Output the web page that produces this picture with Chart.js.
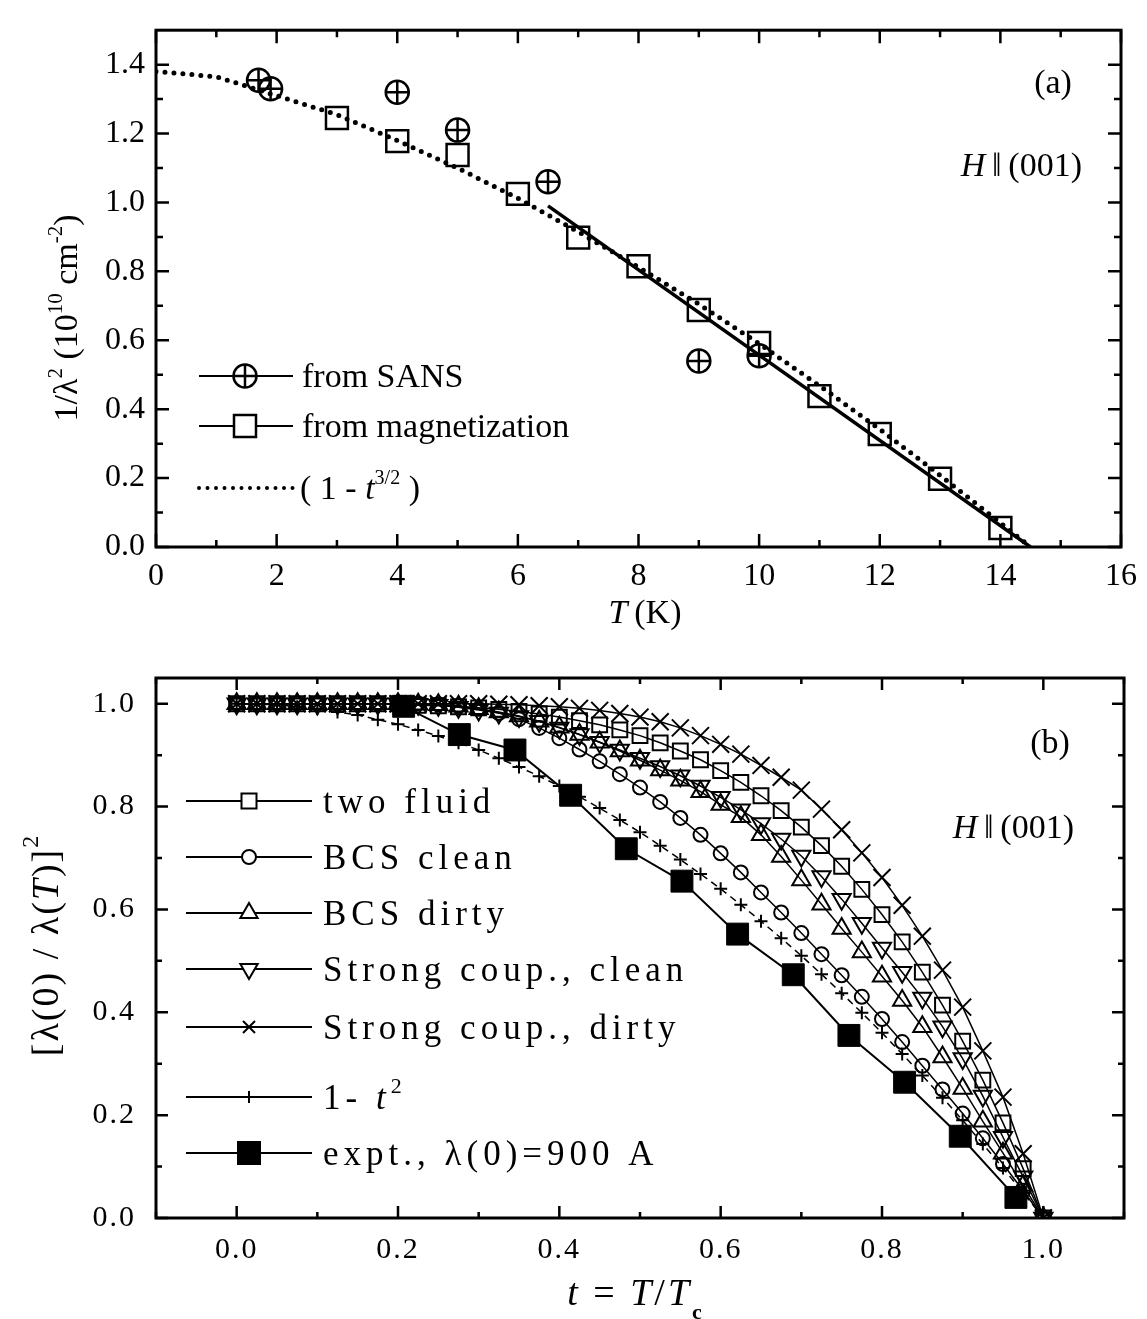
<!DOCTYPE html>
<html>
<head>
<meta charset="utf-8">
<script src="https://cdn.jsdelivr.net/npm/chart.js@4.4.1/dist/chart.umd.min.js"></script>
<style>
  html, body { margin: 0; padding: 0; background: #fff; }
  #wrapA { position: absolute; left: 0; top: 0; width: 1147px; height: 640px; }
  #wrapB { position: absolute; left: 0; top: 640px; width: 1147px; height: 679px; }
</style>
</head>
<body>
<div id="wrapA"><canvas id="chartA" width="1147" height="640"></canvas></div>
<div id="wrapB"><canvas id="chartB" width="1147" height="679"></canvas></div>
<script>
// ---------- panel (a): 1/lambda^2 vs T ----------
const sansT = [1.7, 1.9, 4, 5, 6.5, 9, 10];
const sansY = [1.355, 1.33, 1.32, 1.21, 1.06, 0.54, 0.555];

const magT = [3, 4, 5, 6, 7, 8, 9, 10, 11, 12, 13, 14];
const magY = [1.245, 1.178, 1.138, 1.025, 0.898, 0.815, 0.688, 0.592, 0.438, 0.328, 0.198, 0.055];

const fitT = [6.5, 14.5];
const fitY = [0.99, 0.0];

const powT = [0, 1, 2, 3, 4, 5, 6, 7, 8, 9, 10, 11, 12, 13, 14, 14.5];
const powY = [1.38, 1.365, 1.31, 1.255, 1.18, 1.10, 1.012, 0.915, 0.812, 0.705, 0.59, 0.468, 0.342, 0.208, 0.07, 0.0];

const xTicksA = [0, 2, 4, 6, 8, 10, 12, 14, 16];
const xMinorA = [1, 3, 5, 7, 9, 11, 13, 15];
const yTicksA = [0, 0.2, 0.4, 0.6, 0.8, 1.0, 1.2, 1.4];
const yMinorA = [0.1, 0.3, 0.5, 0.7, 0.9, 1.1, 1.3];

// ---------- panel (b): [lambda(0)/lambda(T)]^2 vs t ----------
const tB = [0, 0.025, 0.05, 0.075, 0.1, 0.125, 0.15, 0.175, 0.2, 0.225, 0.25, 0.275, 0.3, 0.325,
  0.35, 0.375, 0.4, 0.425, 0.45, 0.475, 0.5, 0.525, 0.55, 0.575, 0.6, 0.625, 0.65, 0.675, 0.7,
  0.725, 0.75, 0.775, 0.8, 0.825, 0.85, 0.875, 0.9, 0.925, 0.95, 0.975, 1.0];

const twoFluid = [1, 1, 1, 1, 1, 1, 1, 1, 1, 0.997, 0.996, 0.994, 0.992, 0.989,
  0.985, 0.98, 0.974, 0.967, 0.959, 0.949, 0.938, 0.924, 0.908, 0.891, 0.87, 0.847, 0.821, 0.792, 0.76,
  0.724, 0.684, 0.639, 0.59, 0.537, 0.478, 0.414, 0.344, 0.268, 0.185, 0.096, 0];

const bcsClean = [1, 1, 1, 1, 1, 1, 1, 1, 1, 1, 0.999, 0.996, 0.99, 0.982,
  0.97, 0.953, 0.933, 0.911, 0.888, 0.863, 0.837, 0.809, 0.778, 0.745, 0.709, 0.672, 0.633, 0.594, 0.554,
  0.513, 0.472, 0.43, 0.387, 0.342, 0.296, 0.25, 0.203, 0.155, 0.105, 0.053, 0];

const bcsDirty = [1, 1, 1, 1, 1, 1, 1, 1, 1, 0.999, 0.998, 0.995, 0.99, 0.984,
  0.976, 0.966, 0.954, 0.94, 0.925, 0.908, 0.89, 0.871, 0.851, 0.829, 0.804, 0.78, 0.745, 0.703, 0.657,
  0.61, 0.563, 0.517, 0.47, 0.423, 0.372, 0.313, 0.252, 0.188, 0.126, 0.063, 0];

const strongClean = [1, 1, 1, 1, 1, 1, 1, 1, 1, 0.999, 0.997, 0.993, 0.988, 0.982,
  0.975, 0.966, 0.953, 0.94, 0.925, 0.91, 0.894, 0.878, 0.86, 0.84, 0.818, 0.794, 0.767, 0.737, 0.704,
  0.664, 0.62, 0.573, 0.525, 0.478, 0.428, 0.372, 0.31, 0.237, 0.157, 0.08, 0];

const strongDirty = [1, 1, 1, 1, 1, 1, 1, 1, 1, 1, 1, 1, 1, 0.999,
  0.998, 0.996, 0.994, 0.991, 0.987, 0.981, 0.974, 0.965, 0.953, 0.938, 0.921, 0.902, 0.88, 0.857, 0.832,
  0.795, 0.755, 0.71, 0.662, 0.608, 0.548, 0.482, 0.41, 0.325, 0.235, 0.125, 0];

const oneMinusT2 = [1, 0.999, 0.998, 0.994, 0.99, 0.984, 0.978, 0.969, 0.96, 0.949, 0.937, 0.924, 0.91, 0.894,
  0.877, 0.859, 0.84, 0.819, 0.797, 0.774, 0.75, 0.724, 0.697, 0.669, 0.64, 0.609, 0.577, 0.544, 0.51,
  0.474, 0.437, 0.399, 0.36, 0.319, 0.277, 0.234, 0.19, 0.144, 0.097, 0.049, 0];

const exptT = [0.207, 0.276, 0.345, 0.414, 0.483, 0.552, 0.621, 0.69, 0.759, 0.828, 0.897, 0.966];
const exptY = [0.995, 0.94, 0.91, 0.822, 0.718, 0.655, 0.552, 0.473, 0.355, 0.264, 0.159, 0.04];

const xTicksB = [0, 0.2, 0.4, 0.6, 0.8, 1.0];
const xMinorB = [-0.1, 0.1, 0.3, 0.5, 0.7, 0.9, 1.1];
const yTicksB = [0, 0.2, 0.4, 0.6, 0.8, 1.0];
const yMinorB = [0.1, 0.3, 0.5, 0.7, 0.9];

// ---------- helpers ----------
const SERIF = '"Liberation Serif", "Times New Roman", serif';
function font(size, style) {
  return (style ? style + ' ' : '') + size + 'px ' + SERIF;
}
function pts(xs, ys) {
  return xs.map((x, i) => ({ x: x, y: ys[i] }));
}

// draws a row of text pieces (normal / italic / super / subscript), baseline at y
function drawParts(ctx, parts, x, y, align, spacing) {
  ctx.save();
  ctx.letterSpacing = (spacing || 0) + 'px';
  ctx.textBaseline = 'alphabetic';
  ctx.textAlign = 'left';
  ctx.fillStyle = '#000';
  let w = 0;
  parts.forEach(p => { ctx.font = p.f; p.w = ctx.measureText(p.t).width; w += p.w; });
  let cx = align === 'center' ? x - w / 2 : (align === 'right' ? x - w : x);
  parts.forEach(p => {
    ctx.font = p.f;
    ctx.fillText(p.t, cx, y + (p.dy || 0));
    cx += p.w;
  });
  ctx.restore();
}

function drawMarker(ctx, style, x, y, h, lw) {
  ctx.save();
  ctx.lineWidth = lw;
  ctx.strokeStyle = '#000';
  ctx.fillStyle = '#fff';
  ctx.beginPath();
  if (style === 'rect' || style === 'rectFill') {
    ctx.rect(x - h, y - h, 2 * h, 2 * h);
    if (style === 'rectFill') { ctx.fillStyle = '#000'; }
    ctx.fill(); ctx.stroke();
  } else if (style === 'circle' || style === 'oplus') {
    ctx.arc(x, y, h, 0, Math.PI * 2);
    ctx.fill(); ctx.stroke();
    if (style === 'oplus') {
      ctx.beginPath();
      ctx.moveTo(x - h, y); ctx.lineTo(x + h, y);
      ctx.moveTo(x, y - h); ctx.lineTo(x, y + h);
      ctx.stroke();
    }
  } else if (style === 'triUp' || style === 'triDown') {
    const s = style === 'triUp' ? 1 : -1;
    ctx.moveTo(x, y - s * h);
    ctx.lineTo(x + 0.866 * h, y + s * 0.5 * h);
    ctx.lineTo(x - 0.866 * h, y + s * 0.5 * h);
    ctx.closePath();
    ctx.fill(); ctx.stroke();
  } else if (style === 'crossRot') {
    ctx.moveTo(x - h, y - h); ctx.lineTo(x + h, y + h);
    ctx.moveTo(x - h, y + h); ctx.lineTo(x + h, y - h);
    ctx.stroke();
  } else if (style === 'cross') {
    ctx.moveTo(x - h, y); ctx.lineTo(x + h, y);
    ctx.moveTo(x, y - h); ctx.lineTo(x, y + h);
    ctx.stroke();
  }
  ctx.restore();
}

// box with inward major/minor ticks on all four sides
function framePlugin(cfg) {
  return {
    id: 'frame',
    afterDatasetsDraw(chart) {
      const ctx = chart.ctx, a = chart.chartArea;
      const xs = chart.scales.x, ys = chart.scales.y;
      ctx.save();
      ctx.strokeStyle = '#000';
      ctx.lineWidth = cfg.tickWidth;
      ctx.beginPath();
      const tick = (vals, len, horiz) => vals.forEach(v => {
        if (horiz) {
          const p = xs.getPixelForValue(v);
          ctx.moveTo(p, a.bottom); ctx.lineTo(p, a.bottom - len);
          ctx.moveTo(p, a.top); ctx.lineTo(p, a.top + len);
        } else {
          const p = ys.getPixelForValue(v);
          ctx.moveTo(a.left, p); ctx.lineTo(a.left + len, p);
          ctx.moveTo(a.right, p); ctx.lineTo(a.right - len, p);
        }
      });
      tick(cfg.xMajor, cfg.majorLen, true);
      tick(cfg.xMinor, cfg.minorLen, true);
      tick(cfg.yMajor, cfg.majorLen, false);
      tick(cfg.yMinor, cfg.minorLen, false);
      ctx.stroke();
      ctx.lineWidth = cfg.lineWidth;
      ctx.strokeRect(a.left, a.top, a.right - a.left, a.bottom - a.top);
      ctx.restore();
    }
  };
}

// texts and hand-made legend, in page coordinates
function textPlugin(offsetY, draw) {
  return {
    id: 'texts',
    afterDraw(chart) {
      const ctx = chart.ctx;
      ctx.save();
      ctx.translate(0, -offsetY);
      draw(ctx);
      ctx.restore();
    }
  };
}

function fixedAxis(size, ticks) {
  return {
    afterFit: s => { if (s.isHorizontal()) s.height = size; else s.width = size; },
    afterBuildTicks: s => { s.ticks = ticks.map(v => ({ value: v })); }
  };
}

// ---------- chart (a) ----------
const fa = 32;
new Chart(document.getElementById('chartA'), {
  type: 'line',
  data: {
    datasets: [
      { data: pts(sansT, sansY), showLine: false, pointStyle: 'circle', pointRadius: 11.5,
        pointBorderWidth: 2.5, pointBorderColor: '#000', pointBackgroundColor: 'rgba(0,0,0,0)' },
      { data: pts(sansT, sansY), showLine: false, pointStyle: 'cross', pointRadius: 11.5,
        pointBorderWidth: 2.5, pointBorderColor: '#000' },
      { data: pts(magT, magY), showLine: false, pointStyle: 'rect', pointRadius: 15.5,
        pointBorderWidth: 2.5, pointBorderColor: '#000', pointBackgroundColor: 'rgba(0,0,0,0)' },
      { data: pts(fitT, fitY), borderColor: '#000', borderWidth: 3.5, pointRadius: 0 },
      { data: pts(powT, powY), borderColor: '#000', borderWidth: 5, borderDash: [0, 9],
        borderCapStyle: 'round', pointRadius: 0 }
    ]
  },
  options: {
    responsive: false,
    devicePixelRatio: 1,
    animation: false,
    events: [],
    layout: { padding: { left: 0, right: 19, top: 15, bottom: 0 } },
    plugins: { legend: { display: false }, tooltip: { enabled: false } },
    scales: {
      x: Object.assign({
        type: 'linear', min: 0, max: 16,
        grid: { display: false, drawTicks: false }, border: { display: false },
        ticks: { color: '#000', font: { family: SERIF, size: fa }, padding: 10,
          callback: v => String(v) }
      }, fixedAxis(93, xTicksA)),
      y: Object.assign({
        type: 'linear', min: 0, max: 1.5,
        grid: { display: false, drawTicks: false }, border: { display: false },
        ticks: { color: '#000', font: { family: SERIF, size: fa }, padding: 11,
          callback: v => v.toFixed(1) }
      }, fixedAxis(156, yTicksA))
    }
  },
  plugins: [
    framePlugin({ xMajor: xTicksA, xMinor: xMinorA, yMajor: yTicksA, yMinor: yMinorA,
      majorLen: 13, minorLen: 7, tickWidth: 2.5, lineWidth: 3 }),
    textPlugin(0, ctx => {
      const s = 34;
      drawParts(ctx, [{ t: '(a)', f: font(s) }], 1053, 82 + 0.33 * s, 'center');
      drawParts(ctx, [{ t: 'H', f: font(s, 'italic') }, { t: '\u2009\u2016\u2009', f: font(s) },
        { t: '(001)', f: font(s) }], 1082, 165 + 0.33 * s, 'right');
      drawParts(ctx, [{ t: 'T', f: font(s, 'italic') }, { t: '\u2009(K)', f: font(s) }],
        645, 612 + 0.33 * s, 'center');
      // y title, rotated
      ctx.save();
      ctx.translate(66, 318);
      ctx.rotate(-Math.PI / 2);
      const ys = 34, sup = 21;
      drawParts(ctx, [
        { t: '1/\u03bb', f: font(ys) }, { t: '2', f: font(sup), dy: -15 },
        { t: ' (10', f: font(ys) }, { t: '10', f: font(sup), dy: -15 },
        { t: ' cm', f: font(ys) }, { t: '-2', f: font(sup), dy: -15 },
        { t: ')', f: font(ys) }
      ], 0, 0.33 * ys, 'center');
      ctx.restore();
      // legend
      const lx0 = 199, lx1 = 293, mx = 245, tx = 302, ls = 34;
      const rows = [
        { y: 376, m: 'oplus', h: 11.5, parts: [{ t: 'from SANS', f: font(ls) }] },
        { y: 426, m: 'rect', h: 11, parts: [{ t: 'from magnetization', f: font(ls) }] }
      ];
      rows.forEach(r => {
        ctx.save();
        ctx.strokeStyle = '#000'; ctx.lineWidth = 2;
        ctx.beginPath();
        ctx.moveTo(lx0, r.y); ctx.lineTo(mx - r.h, r.y);
        ctx.moveTo(mx + r.h, r.y); ctx.lineTo(lx1, r.y);
        ctx.stroke();
        ctx.restore();
        drawMarker(ctx, r.m, mx, r.y, r.h, 2.5);
        drawParts(ctx, r.parts, tx, r.y + 0.33 * ls, 'left');
      });
      ctx.save();
      ctx.strokeStyle = '#000'; ctx.lineWidth = 4; ctx.lineCap = 'round';
      ctx.setLineDash([0, 8.5]);
      ctx.beginPath(); ctx.moveTo(199, 488); ctx.lineTo(295, 488); ctx.stroke();
      ctx.restore();
      drawParts(ctx, [{ t: '( 1 - ', f: font(ls) }, { t: 't', f: font(ls, 'italic') },
        { t: '3/2', f: font(20), dy: -15 }, { t: ' )', f: font(ls) }], 300, 488 + 0.33 * ls, 'left');
    })
  ]
});

// ---------- chart (b) ----------
const fb = 30;
const hollow = 'rgba(0,0,0,0)';
function theory(vals, style, r, extra) {
  return Object.assign({
    data: pts(tB, vals), borderColor: '#000', borderWidth: 1.5, pointStyle: style,
    pointRadius: r, pointBorderWidth: 2, pointBorderColor: '#000', pointBackgroundColor: hollow
  }, extra || {});
}
new Chart(document.getElementById('chartB'), {
  type: 'line',
  data: {
    datasets: [
      theory(twoFluid, 'rect', 10.5),
      theory(bcsClean, 'circle', 7),
      theory(bcsDirty, 'triangle', 10.5),
      theory(strongClean, 'triangle', 10.5, { pointRotation: 180 }),
      theory(strongDirty, 'crossRot', 12),
      theory(oneMinusT2, 'cross', 6.5, { borderDash: [7, 5] }),
      { data: pts(exptT, exptY), borderColor: '#000', borderWidth: 2, pointStyle: 'rect',
        pointRadius: 15.5, pointBorderWidth: 1, pointBorderColor: '#000', pointBackgroundColor: '#000' }
    ]
  },
  options: {
    responsive: false,
    devicePixelRatio: 1,
    animation: false,
    events: [],
    layout: { padding: { left: 0, right: 23, top: 18, bottom: 0 } },
    plugins: { legend: { display: false }, tooltip: { enabled: false } },
    scales: {
      x: Object.assign({
        type: 'linear', min: -0.1, max: 1.1,
        grid: { display: false, drawTicks: false }, border: { display: false },
        ticks: { color: '#000', font: { family: SERIF, size: fb }, padding: 14,
          callback: v => v.toFixed(1) }
      }, fixedAxis(101, xTicksB)),
      y: Object.assign({
        type: 'linear', min: 0, max: 1.05,
        grid: { display: false, drawTicks: false }, border: { display: false },
        ticks: { color: '#000', font: { family: SERIF, size: fb }, padding: 20,
          callback: v => v.toFixed(1) }
      }, fixedAxis(156, yTicksB))
    }
  },
  plugins: [
    { id: 'spacing', beforeDraw(chart) { chart.ctx.letterSpacing = '2px'; } },
    framePlugin({ xMajor: xTicksB, xMinor: xMinorB, yMajor: yTicksB, yMinor: yMinorB,
      majorLen: 12, minorLen: 6, tickWidth: 2.5, lineWidth: 3 }),
    textPlugin(640, ctx => {
      const s = 34;
      drawParts(ctx, [{ t: '(b)', f: font(s) }], 1050, 742 + 0.33 * s, 'center');
      drawParts(ctx, [{ t: 'H', f: font(s, 'italic') }, { t: '\u2009\u2016\u2009', f: font(s) },
        { t: '(001)', f: font(s) }], 1074, 827 + 0.33 * s, 'right');
      const ts = 38;
      drawParts(ctx, [{ t: 't', f: font(ts, 'italic') }, { t: ' = ', f: font(ts) },
        { t: 'T', f: font(ts, 'italic') }, { t: '/', f: font(ts) }, { t: 'T', f: font(ts, 'italic') },
        { t: 'c', f: font(22, 'bold'), dy: 14 }], 636, 1292 + 0.33 * ts, 'center', 3);
      ctx.save();
      ctx.translate(45, 945);
      ctx.rotate(-Math.PI / 2);
      drawParts(ctx, [{ t: '[\u03bb(0) / \u03bb(', f: font(ts) }, { t: 'T', f: font(ts, 'italic') },
        { t: ')]', f: font(ts) }, { t: '2', f: font(24), dy: -20 }], 0, 0.33 * ts, 'center', 2);
      ctx.restore();
      // legend
      const lx0 = 186, lx1 = 312, mx = 249, tx = 323, ls = 35, sp = 5;
      const rows = [
        { y: 801, m: 'rect', h: 7.5, parts: [{ t: 'two fluid', f: font(ls) }] },
        { y: 857, m: 'circle', h: 7, parts: [{ t: 'BCS clean', f: font(ls) }] },
        { y: 913, m: 'triUp', h: 10, parts: [{ t: 'BCS dirty', f: font(ls) }] },
        { y: 969, m: 'triDown', h: 10, parts: [{ t: 'Strong coup., clean', f: font(ls) }] },
        { y: 1027, m: 'crossRot', h: 6, parts: [{ t: 'Strong coup., dirty', f: font(ls) }] },
        { y: 1097, m: 'cross', h: 6, parts: [{ t: '1- ', f: font(ls) }, { t: 't', f: font(ls, 'italic') },
          { t: '2', f: font(22), dy: -16 }] },
        { y: 1153, m: 'rectFill', h: 11, parts: [{ t: 'expt., \u03bb(0)=900 A', f: font(ls) }] }
      ];
      rows.forEach(r => {
        ctx.save();
        ctx.strokeStyle = '#000'; ctx.lineWidth = 2;
        ctx.beginPath(); ctx.moveTo(lx0, r.y); ctx.lineTo(lx1, r.y); ctx.stroke();
        ctx.restore();
        drawMarker(ctx, r.m, mx, r.y, r.h, 2);
        drawParts(ctx, r.parts, tx, r.y + 0.33 * ls, 'left', sp);
      });
    })
  ]
});
</script>
</body>
</html>
